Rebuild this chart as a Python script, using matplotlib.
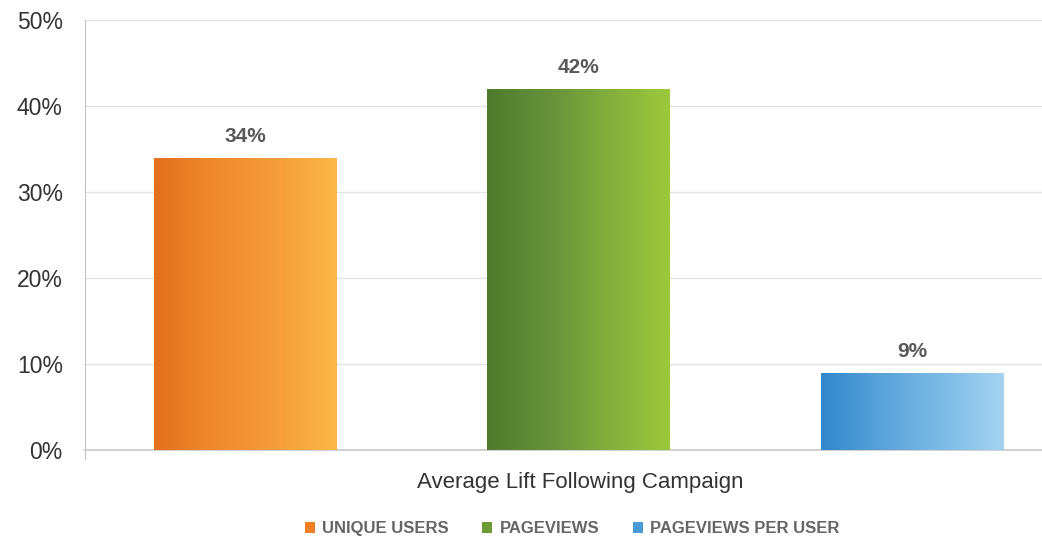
import numpy as np
import matplotlib
matplotlib.use("Agg")
import matplotlib.pyplot as plt
from matplotlib.colors import LinearSegmentedColormap
from matplotlib.patches import Patch

plt.rcParams['font.family'] = ['Liberation Sans', 'DejaVu Sans']

# Average lift per metric (percent)
series = ["UNIQUE USERS", "PAGEVIEWS", "PAGEVIEWS PER USER"]
lift = [34, 42, 9]
value_labels = ["34%", "42%", "9%"]
category = "Average Lift Following Campaign"

# left-to-right gradient stops for each bar
gradients = [
    ["#e2701d", "#f08a2c", "#f69d3b", "#fbb848"],
    ["#4f7a2c", "#66913a", "#84ae3c", "#9ec83c"],
    ["#3187cb", "#5aa3da", "#7dbbe6", "#a5d4f0"],
]
legend_colors = ["#f07f22", "#6e9a35", "#4a9ad8"]

fig = plt.figure(figsize=(10.42, 5.38), dpi=100)
ax = fig.add_axes([0.0816, 0.1636, 0.9184, 0.7992])

x = np.arange(len(lift))
width = 0.546
bars = ax.bar(x, lift, width=width, color="none", edgecolor="none", zorder=3)

grad = np.linspace(0, 1, 256).reshape(1, -1)
for bar, stops in zip(bars, gradients):
    cmap = LinearSegmentedColormap.from_list("g", stops)
    x0 = bar.get_x()
    x1 = x0 + bar.get_width()
    h = bar.get_height()
    im = ax.imshow(grad, cmap=cmap, aspect="auto", extent=[x0, x1, 0, h],
                   zorder=3, interpolation="bilinear")
    im.set_clip_path(bar)

for xi, v, lab in zip(x, lift, value_labels):
    ax.text(xi, v + 1.4, lab, ha="center", va="bottom", fontsize=15,
            fontweight="bold", color="#595959", zorder=4)

ax.set_xlim(-0.48, 2.39)
ax.set_ylim(0, 50)
ax.set_yticks([0, 10, 20, 30, 40, 50])
ax.set_yticklabels(["0%", "10%", "20%", "30%", "40%", "50%"])
ax.tick_params(axis="y", length=0, pad=16, labelsize=16.5, labelcolor="#333333")
ax.set_xticks([])
ax.grid(axis="y", color="#e3e3e3", linewidth=1, zorder=0)
ax.set_axisbelow(True)

for side in ["top", "right"]:
    ax.spines[side].set_visible(False)
ax.spines["left"].set_color("#c4c4c4")
ax.spines["left"].set_bounds(-1, 50)
ax.spines["bottom"].set_color("#c8c8c8")
ax.spines["bottom"].set_linewidth(1.2)

ax.set_xlabel(category, fontsize=16, color="#333333", labelpad=12)
ax.xaxis.set_label_coords(0.518, -0.052, transform=ax.transAxes)
ax.xaxis.label.set_va("top")

handles = [Patch(facecolor=c, edgecolor="none") for c in legend_colors]
leg = fig.legend(handles, series, loc="center", bbox_to_anchor=(0.549, 0.017),
                 ncol=3, frameon=False, handlelength=0.6, handleheight=0.6,
                 handletextpad=0.45, columnspacing=2.0,
                 prop={"size": 12, "weight": "bold"})
for t in leg.get_texts():
    t.set_color("#666666")

fig.savefig("out.png", dpi=100)
